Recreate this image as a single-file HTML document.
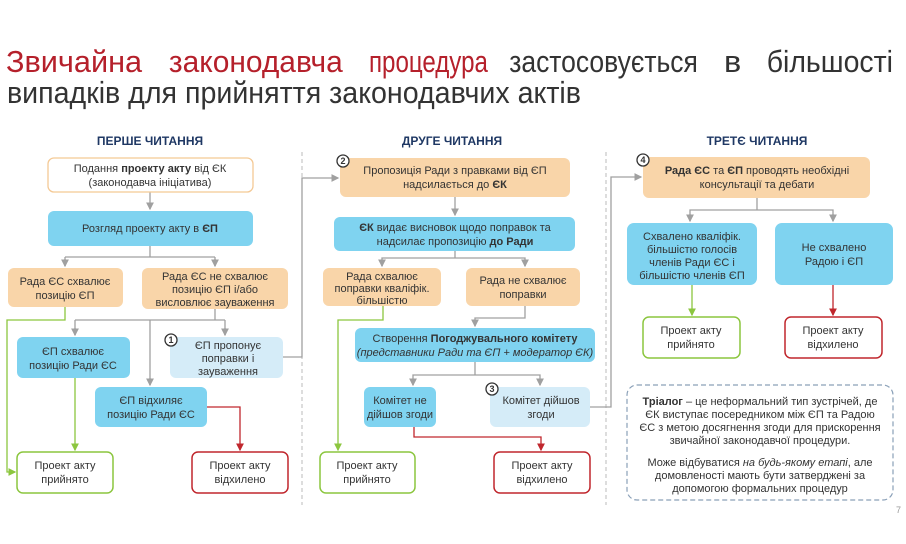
<!DOCTYPE html>
<html><head><meta charset="utf-8"><style>
html,body{margin:0;padding:0;background:#fff;}
svg{display:block;font-family:"Liberation Sans","DejaVu Sans",sans-serif;}
.t{font-size:11px;fill:#333;text-anchor:middle;}
.h{font-size:12px;font-weight:bold;fill:#1f3864;text-anchor:middle;}
.g{stroke:#a0a0a0;stroke-width:1.3;fill:none;}
.gr{stroke:#8cc63f;stroke-width:1.3;fill:none;}
.rd{stroke:#c0272d;stroke-width:1.3;fill:none;}
.or{fill:#f9d5a9;}
.bl{fill:#7fd3f0;}
.lb{fill:#d5ecf8;}
.cir{fill:#fff;stroke:#333;stroke-width:1.3;}
.cn{font-size:9px;font-weight:bold;fill:#333;text-anchor:middle;}
.ti{font-size:31px;}
</style></head><body>
<svg width="906" height="544" viewBox="0 0 906 544" xmlns="http://www.w3.org/2000/svg">
<defs>
<marker id="ag" markerWidth="6" markerHeight="6" refX="5" refY="3" orient="auto"><path d="M0,0L6,3L0,6z" fill="#a0a0a0"/></marker>
<marker id="agr" markerWidth="6" markerHeight="6" refX="5" refY="3" orient="auto"><path d="M0,0L6,3L0,6z" fill="#8cc63f"/></marker>
<marker id="ard" markerWidth="6" markerHeight="6" refX="5" refY="3" orient="auto"><path d="M0,0L6,3L0,6z" fill="#c0272d"/></marker>
</defs>
<rect width="906" height="544" fill="#fff"/>
<g class="ti" transform="scale(0.82,1)">
<text x="7.3" y="72" fill="#b5202b" textLength="166" lengthAdjust="spacingAndGlyphs">Звичайна</text>
<text x="206" y="72" fill="#b5202b" textLength="212" lengthAdjust="spacingAndGlyphs">законодавча</text>
<text x="450" y="72" fill="#b5202b" textLength="145" lengthAdjust="spacingAndGlyphs">процедура</text>
<text x="621" y="72" fill="#333" textLength="230" lengthAdjust="spacingAndGlyphs">застосовується</text>
<text x="883" y="72" fill="#333" textLength="21" lengthAdjust="spacingAndGlyphs">в</text>
<text x="935" y="72" fill="#333" textLength="154" lengthAdjust="spacingAndGlyphs">більшості</text>
<text x="8.5" y="103" fill="#333" textLength="700" lengthAdjust="spacingAndGlyphs">випадків для прийняття законодавчих актів</text>
</g>

<text class="h" x="150" y="145">ПЕРШЕ ЧИТАННЯ</text>
<text class="h" x="452" y="145">ДРУГЕ ЧИТАННЯ</text>
<text class="h" x="757" y="145">ТРЕТЄ ЧИТАННЯ</text>
<line x1="302" y1="152" x2="302" y2="505" stroke="#bbb" stroke-dasharray="4,3"/>
<line x1="606" y1="152" x2="606" y2="505" stroke="#bbb" stroke-dasharray="4,3"/>

<path class="g" d="M150,192V209" marker-end="url(#ag)"/>
<path class="g" d="M150,246V257M65,257H215M65,257V266M215,257V266" />
<path class="g" d="M65,259V266" marker-end="url(#ag)"/><path class="g" d="M215,259V266" marker-end="url(#ag)"/>
<path class="g" d="M215,309V320M75,320H225M75,320V335M225,320V335M150,320V385"/>
<path class="g" d="M75,328V335" marker-end="url(#ag)"/><path class="g" d="M225,328V335" marker-end="url(#ag)"/><path class="g" d="M150,378V385" marker-end="url(#ag)"/>
<path class="gr" d="M65,307V320H7V472H15" marker-end="url(#agr)"/>
<path class="gr" d="M75,378V450" marker-end="url(#agr)"/>
<path class="rd" d="M207,407H240V450" marker-end="url(#ard)"/>
<path class="g" d="M283,357H302V178H338" marker-end="url(#ag)"/>
<path class="g" d="M455,197V215" marker-end="url(#ag)"/>
<path class="g" d="M455,251V258H382V266M455,258H525V266"/>
<path class="g" d="M382,260V266" marker-end="url(#ag)"/><path class="g" d="M525,260V266" marker-end="url(#ag)"/>
<path class="g" d="M525,306V318H475V326" marker-end="url(#ag)"/>
<path class="g" d="M475,362V375H413V385M475,375H540V385"/>
<path class="g" d="M413,379V385" marker-end="url(#ag)"/><path class="g" d="M540,379V385" marker-end="url(#ag)"/>
<path class="gr" d="M383,306V320H338V450" marker-end="url(#agr)"/>
<path class="rd" d="M414,427V437H541V450" marker-end="url(#ard)"/>
<path class="g" d="M590,407H611V177H641" marker-end="url(#ag)"/>
<path class="g" d="M757,198V210H690V221M757,210H833V221"/>
<path class="g" d="M690,214V221" marker-end="url(#ag)"/><path class="g" d="M833,214V221" marker-end="url(#ag)"/>
<path class="gr" d="M692,285V315" marker-end="url(#agr)"/>
<path class="rd" d="M833,285V315" marker-end="url(#ard)"/>

<rect x="48" y="158" width="205" height="34" rx="6" fill="#fff" stroke="#f4c995" stroke-width="1.3"/>
<text class="t" x="150" y="172">Подання <tspan font-weight="bold">проекту акту</tspan> від ЄК</text>
<text class="t" x="150" y="186">(законодавча ініціатива)</text>
<rect class="bl" x="48" y="211" width="205" height="35" rx="6"/>
<text class="t" x="150" y="232">Розгляд проекту акту в <tspan font-weight="bold">ЄП</tspan></text>
<rect class="or" x="8" y="268" width="115" height="39" rx="6"/>
<text class="t" x="65" y="285">Рада ЄС схвалює</text><text class="t" x="65" y="299">позицію ЄП</text>
<rect class="or" x="142" y="268" width="146" height="41" rx="6"/>
<text class="t" x="215" y="280">Рада ЄС не схвалює</text><text class="t" x="215" y="293">позицію ЄП і/або</text><text class="t" x="215" y="306">висловлює зауваження</text>
<rect class="bl" x="17" y="337" width="113" height="41" rx="6"/>
<text class="t" x="73" y="355">ЄП схвалює</text><text class="t" x="73" y="369">позицію Ради ЄС</text>
<rect class="lb" x="170" y="337" width="113" height="41" rx="6"/>
<text class="t" x="228" y="349">ЄП пропонує</text><text class="t" x="228" y="362">поправки і</text><text class="t" x="228" y="375">зауваження</text>
<circle class="cir" cx="171" cy="340" r="6"/><text class="cn" x="171" y="343">1</text>
<rect class="bl" x="95" y="387" width="112" height="40" rx="6"/>
<text class="t" x="151" y="404">ЄП відхиляє</text><text class="t" x="151" y="418">позицію Ради ЄС</text>
<rect x="17" y="452" width="96" height="41" rx="6" fill="#fff" stroke="#8cc63f" stroke-width="1.5"/>
<text class="t" x="65" y="469">Проект акту</text><text class="t" x="65" y="483">прийнято</text>
<rect x="192" y="452" width="96" height="41" rx="6" fill="#fff" stroke="#c0272d" stroke-width="1.5"/>
<text class="t" x="240" y="469">Проект акту</text><text class="t" x="240" y="483">відхилено</text>

<rect class="or" x="340" y="158" width="230" height="39" rx="6"/>
<text class="t" x="455" y="174">Пропозиція Ради з правками від ЄП</text><text class="t" x="455" y="188">надсилається до <tspan font-weight="bold">ЄК</tspan></text>
<circle class="cir" cx="343" cy="161" r="6"/><text class="cn" x="343" y="164">2</text>
<rect class="bl" x="334" y="217" width="241" height="34" rx="6"/>
<text class="t" x="455" y="231"><tspan font-weight="bold">ЄК</tspan> видає висновок щодо поправок та</text><text class="t" x="455" y="245">надсилає пропозицію <tspan font-weight="bold">до Ради</tspan></text>
<rect class="or" x="323" y="268" width="118" height="38" rx="6"/>
<text class="t" x="382" y="280">Рада схвалює</text><text class="t" x="382" y="292">поправки кваліфік.</text><text class="t" x="382" y="304">більшістю</text>
<rect class="or" x="466" y="268" width="114" height="38" rx="6"/>
<text class="t" x="523" y="284">Рада не схвалює</text><text class="t" x="523" y="298">поправки</text>
<rect class="bl" x="355" y="328" width="240" height="34" rx="6"/>
<text class="t" x="475" y="342">Створення <tspan font-weight="bold">Погоджувального комітету</tspan></text>
<text class="t" x="475" y="356" font-style="italic">(представники Ради та ЄП + модератор ЄК)</text>
<rect class="bl" x="364" y="387" width="72" height="40" rx="6"/>
<text class="t" x="400" y="404">Комітет не</text><text class="t" x="400" y="418">дійшов згоди</text>
<rect class="lb" x="490" y="387" width="100" height="40" rx="6"/>
<text class="t" x="541" y="404">Комітет дійшов</text><text class="t" x="541" y="418">згоди</text>
<circle class="cir" cx="492" cy="389" r="6"/><text class="cn" x="492" y="392">3</text>
<rect x="320" y="452" width="95" height="41" rx="6" fill="#fff" stroke="#8cc63f" stroke-width="1.5"/>
<text class="t" x="367" y="469">Проект акту</text><text class="t" x="367" y="483">прийнято</text>
<rect x="494" y="452" width="96" height="41" rx="6" fill="#fff" stroke="#c0272d" stroke-width="1.5"/>
<text class="t" x="542" y="469">Проект акту</text><text class="t" x="542" y="483">відхилено</text>

<rect class="or" x="643" y="157" width="227" height="41" rx="6"/>
<text class="t" x="757" y="174"><tspan font-weight="bold">Рада ЄС</tspan> та <tspan font-weight="bold">ЄП</tspan> проводять необхідні</text><text class="t" x="757" y="188">консультації та дебати</text>
<circle class="cir" cx="643" cy="160" r="6"/><text class="cn" x="643" y="163">4</text>
<rect class="bl" x="627" y="223" width="130" height="62" rx="7"/>
<text class="t" x="692" y="240">Схвалено кваліфік.</text><text class="t" x="692" y="253">більшістю голосів</text><text class="t" x="692" y="266">членів Ради ЄС і</text><text class="t" x="692" y="279">більшістю членів ЄП</text>
<rect class="bl" x="775" y="223" width="118" height="62" rx="7"/>
<text class="t" x="834" y="251">Не схвалено</text><text class="t" x="834" y="265">Радою і ЄП</text>
<rect x="643" y="317" width="97" height="41" rx="6" fill="#fff" stroke="#8cc63f" stroke-width="1.5"/>
<text class="t" x="691" y="334">Проект акту</text><text class="t" x="691" y="348">прийнято</text>
<rect x="785" y="317" width="97" height="41" rx="6" fill="#fff" stroke="#c0272d" stroke-width="1.5"/>
<text class="t" x="833" y="334">Проект акту</text><text class="t" x="833" y="348">відхилено</text>

<rect x="627" y="385" width="266" height="115" rx="10" fill="#fff" stroke="#8aa0b8" stroke-width="1.2" stroke-dasharray="5,3"/>
<text class="t" x="760" y="405"><tspan font-weight="bold">Тріалог</tspan> – це неформальний тип зустрічей, де</text>
<text class="t" x="760" y="418">ЄК виступає посередником між ЄП та Радою</text>
<text class="t" x="760" y="431">ЄС з метою досягнення згоди для прискорення</text>
<text class="t" x="760" y="444">звичайної законодавчої процедури.</text>
<text class="t" x="760" y="466">Може відбуватися <tspan font-style="italic">на будь-якому етапі</tspan>, але</text>
<text class="t" x="760" y="479">домовленості мають бути затверджені за</text>
<text class="t" x="760" y="492">допомогою формальних процедур</text>
<text x="896" y="513" font-size="9" fill="#999">7</text>
</svg>
</body></html>
